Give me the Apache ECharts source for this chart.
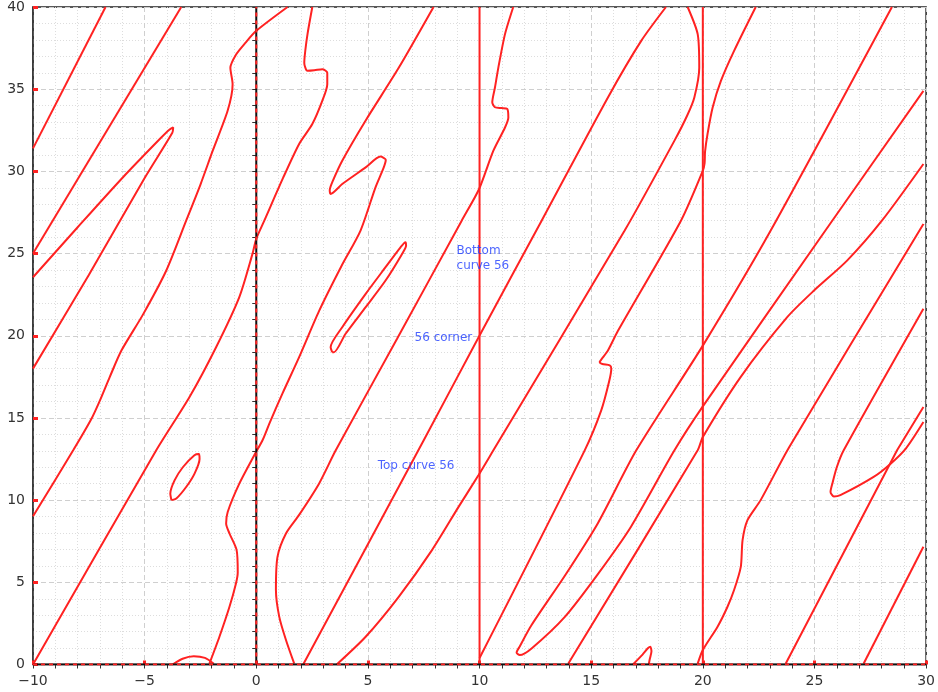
<!DOCTYPE html>
<html>
<head>
<meta charset="utf-8">
<script src="https://cdn.jsdelivr.net/npm/echarts@6/dist/echarts.min.js"></script>
<style>
html,body{margin:0;padding:0;background:#fff;}
#chart{width:938px;height:692px;}
</style>
</head>
<body>
<div id="chart"></div>
<script>
// ---- axis ticks ----
const xTicks = [-10, -5, 0, 5, 10, 15, 20, 25, 30];
const yTicks = [0, 5, 10, 15, 20, 25, 30, 35, 40];

// ---- curves ----
const curveA = [[-10,31.4],[-6.75,40]];
const curveB = [[-10,25],[-3.36,40]];
const wedgeC = [[-10,23.56],[-8.0,26.6],[-6.0,29.6],[-4.3,32.0],[-3.88,32.55],[-3.72,32.67],[-3.76,32.35],[-5.0,29.6],[-7.5,23.7],[-10,18.0]];
const curveD = [[-10,9.02],[-8.2,13.03],[-7.4,14.9],[-7.0,16.07],[-6.56,17.5],[-6.04,19.1],[-5.07,21.3],[-4.03,23.97],[-3.14,27.0],[-2.5,29.2],[-1.95,31.26],[-1.28,33.7],[-1.06,35.3],[-1.16,36.3],[-0.91,37.1],[-0.5,37.8],[0,38.55],[1.4,40]];
const curveE = [[-10,0],[-4.48,13.03],[-2.99,16.27],[-1.8,19.3],[-0.76,22.35],[-0.17,24.98],[0,25.9],[0.36,27.0],[1.2,29.6],[1.92,31.67],[2.51,32.88],[2.96,34.3],[3.18,35.3],[3.18,36.0],[2.96,36.22],[2.6,36.15],[2.29,36.12],[2.15,36.6],[2.2,37.4],[2.3,38.4],[2.51,40]];
const curveF = [[-2.1,0.05],[-1.65,1.69],[-1.2,3.51],[-0.91,4.93],[-0.83,5.6],[-0.88,6.96],[-1.2,7.97],[-1.35,8.58],[-1.28,9.28],[-0.76,11.0],[-0.09,12.73],[0.28,13.64],[0.6,14.7],[1.17,16.48],[1.92,18.7],[2.81,21.5],[3.8,24.2],[4.67,26.4],[5.34,29.03],[5.71,30.24],[5.8,30.7],[5.56,30.9],[4.9,30.24],[3.85,29.23],[3.33,28.63],[3.29,28.85],[3.4,29.33],[3.85,30.65],[4.9,33.1],[6.38,36.3],[7.94,40]];
const curveG = [[1.7,0.05],[1.33,1.49],[1.03,2.9],[0.88,4.53],[0.95,6.55],[1.33,7.97],[1.92,9.1],[2.81,11.0],[3.56,13.03],[6.3,19.8],[9.2,27.0],[9.98,28.93],[10.62,31.26],[11.14,32.67],[11.29,33.28],[11.24,33.8],[10.99,33.85],[10.69,33.9],[10.57,34.2],[10.69,35.1],[10.84,36.3],[11.14,38.35],[11.51,40]];
const curveH = [[2.1,0],[7.5,13.64],[10,20.02],[12.78,27.0],[15.75,34.5],[17.24,37.94],[18.35,40]];
const curveJ = [[3.6,0],[4.9,1.69],[6.38,4.12],[7.87,6.96],[9.06,9.59],[9.95,11.51],[10.62,13.03],[16.5,26.4],[18.73,31.87],[19.3,33.4],[19.62,34.5],[19.84,36.3],[19.77,38.35],[19.32,40]];
const curveK = [[10,0.4],[14.71,13.03],[15.45,15.46],[15.8,17.2],[15.9,18.0],[15.83,18.2],[15.5,18.28],[15.38,18.4],[15.45,18.55],[15.75,19.1],[16.2,20.3],[19.02,27.0],[20.0,30.04],[20.08,30.5],[20.1,31.2],[20.21,32.27],[20.44,33.89],[20.81,35.5],[21.4,37.33],[22.37,40]];
const wedgeW = [[28.47,40],[23.04,26.4],[20.0,19.4],[17.02,13.03],[15.3,8.6],[13.82,5.4],[12.33,2.4],[11.8,1.1],[11.66,0.72],[11.8,0.58],[12.33,0.98],[13.82,2.9],[15.3,5.5],[16.79,8.4],[18.73,13.03],[20.0,15.7],[25.49,26.4],[29.88,34.9]];
const curveL3 = [[13.97,0.05],[19.77,13.03],[20.0,13.84],[21.7,17.5],[23.78,21.13],[24.98,22.75],[26.46,24.57],[28.02,27.0],[29.88,30.45]];
const curveP = [[19.77,0.05],[20.0,0.88],[20.66,2.3],[21.1,3.5],[21.4,4.53],[21.7,5.94],[21.78,7.56],[22.0,8.78],[22.59,10.0],[23.86,13.2],[29.88,26.8]];
const wedgeM = [[29.88,21.64],[26.31,13.03],[26.0,12.0],[25.8,11.0],[25.72,10.5],[25.87,10.22],[26.16,10.3],[27.65,11.41],[28.4,12.2],[29.1,13.15],[29.88,14.75]];
const lineQ = [[23.71,0.05],[28.7,13.03],[29.88,15.66]];
const lineR = [[27.2,0.05],[29.88,7.16]];
const hook = [[16.87,0],[17.3,0.6],[17.55,1.0],[17.65,1.08],[17.7,0.8],[17.62,0.3],[17.58,0]];
const arcBottom = [[-3.75,0],[-3.3,0.35],[-2.8,0.5],[-2.3,0.4],[-1.9,0.05]];
const ovalSmall = [[-3.8,10.0],[-3.85,10.4],[-3.66,11.2],[-3.29,12.0],[-2.77,12.73],[-2.57,12.8],[-2.54,12.5],[-2.77,11.6],[-3.14,10.8],[-3.58,10.1],[-3.8,10.0]];
const ovalLong = [[3.4,19.0],[3.33,19.3],[3.85,20.52],[4.9,22.55],[5.79,24.17],[6.46,25.38],[6.68,25.69],[6.71,25.49],[6.53,24.98],[5.79,23.36],[4.9,21.74],[4.0,20.12],[3.48,19.0],[3.4,19.0]];
const vLine10 = [[10,0],[10,40]];
const vLine20 = [[20,0],[20,40]];
const vLine0 = [[0,0],[0,40]];
const hLine0 = [[-10,0],[30,0]];

// ---- annotations ----
const labelTexts = ['Bottom\ncurve 56', '56 corner', 'Top curve 56'];
const labelPos = [[8.97,24.7],[7.09,19.9],[5.44,12.06]];

const RED = '#ff2222';
const curves = [curveA, curveB, wedgeC, curveD, curveE, curveF, curveG, curveH, curveJ, curveK,
  wedgeW, curveL3, curveP, wedgeM, lineQ, lineR, hook, arcBottom, ovalSmall, ovalLong, vLine10, vLine20];

const series = curves.map(d => ({
  type: 'line', data: d, showSymbol: false, symbol: 'none',
  smooth: d.length > 3 ? 0.25 : false,
  lineStyle: { color: RED, width: 2 }, silent: true, animation: false, z: 3
}));
[vLine0, hLine0].forEach(d => {
  series.push({ type: 'line', data: d, symbol: 'none', lineStyle: { color: '#111', width: 2 }, silent: true, animation: false, z: 4 });
  series.push({ type: 'line', data: d, symbol: 'none', lineStyle: { color: RED, width: 2, type: [4, 4] }, silent: true, animation: false, z: 5 });
});
series.push({
  type: 'scatter', symbolSize: 0, silent: true, animation: false, z: 6,
  data: labelPos.map((p, i) => ({ value: p, label: { formatter: labelTexts[i] } })),
  label: { show: true, position: 'right', distance: 0, color: '#1f3dff', fontSize: 12, fontFamily: 'DejaVu Sans', lineHeight: 15 }
});

const minus = v => String(v).replace('-', '\u2212');
const gridPos = { left: 33, right: 8, top: 6, bottom: 27.5 };

const chart = echarts.init(document.getElementById('chart'), null, { renderer: 'canvas' });
chart.setOption({
  animation: false,
  backgroundColor: '#fff',
  grid: Object.assign({ show: true, borderColor: '#222', borderWidth: 1.5, backgroundColor: 'transparent' }, gridPos),
  xAxis: [{
    type: 'value', min: xTicks[0], max: xTicks[xTicks.length - 1], interval: 5, position: 'bottom',
    axisLine: { show: true, onZero: false, lineStyle: { color: '#333', width: 1 } },
    axisTick: { show: true, inside: true, length: 4, lineStyle: { color: RED, width: 3 } },
    axisLabel: { color: '#333', fontSize: 14, fontFamily: 'DejaVu Sans', margin: 10, formatter: minus },
    splitLine: { show: true, lineStyle: { color: '#cfcfcf', type: [5, 3], width: 1 } },
    minorTick: { show: false, splitNumber: 5 },
    minorSplitLine: { show: true, lineStyle: { color: '#dddddd', type: [1, 2], width: 1 } }
  }, {
    type: 'value', min: -10, max: 30, interval: 1, position: 'bottom',
    axisLine: { show: false }, axisLabel: { show: false }, splitLine: { show: false },
    axisTick: { show: true, length: 4, lineStyle: { color: '#333', width: 1 } }
  }],
  yAxis: [{
    type: 'value', min: yTicks[0], max: yTicks[yTicks.length - 1], interval: 5, position: 'left',
    axisLine: { show: true, onZero: false, lineStyle: { color: '#333', width: 1.5 } },
    axisTick: { show: true, inside: true, length: 5, lineStyle: { color: RED, width: 3 } },
    axisLabel: { color: '#333', fontSize: 14, fontFamily: 'DejaVu Sans', margin: 8, formatter: minus },
    splitLine: { show: true, lineStyle: { color: '#cfcfcf', type: [5, 3], width: 1 } },
    minorTick: { show: false, splitNumber: 5 },
    minorSplitLine: { show: true, lineStyle: { color: '#dddddd', type: [1, 2], width: 1 } }
  }, {
    type: 'value', min: 0, max: 40, interval: 1, position: 'left',
    axisLine: { show: false }, axisLabel: { show: false }, splitLine: { show: false },
    axisTick: { show: true, length: 4, lineStyle: { color: '#333', width: 1 } }
  }],
  series: series
});
</script>
</body>
</html>
